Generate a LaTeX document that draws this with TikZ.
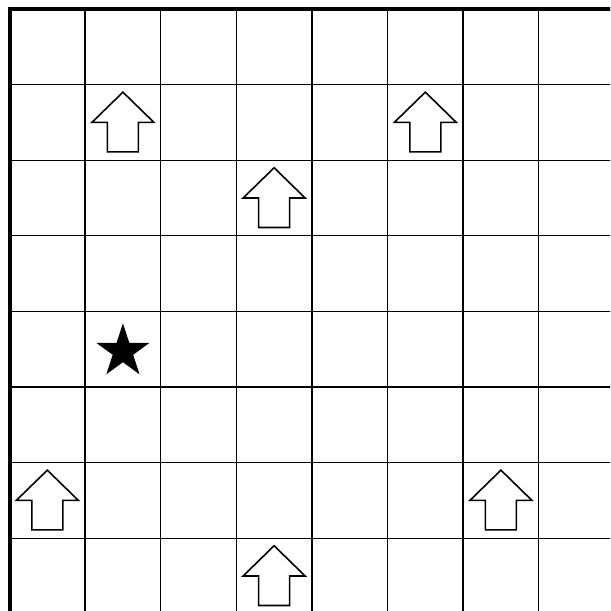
\documentclass[tikz,border=0pt]{standalone}
\usepackage{tikz}
\usetikzlibrary{shapes.geometric}

\begin{document}
\begin{tikzpicture}[
    gridline/.style={black, line width=0.5pt},
    border/.style={black, line width=1.5pt},
    uparrow/.pic={
      \draw[black, line width=0.6pt, fill=white]
        (0,0.4) -- (0.41,0) -- (0.205,0) -- (0.205,-0.39) -- (-0.205,-0.39)
        -- (-0.205,0) -- (-0.41,0) -- cycle;
    },
    goal/.style={star, star points=5, star point ratio=2.618, fill=black,
                 minimum size=0.746cm, inner sep=0pt}
  ]
    \useasboundingbox (-0.126,0.037) rectangle (7.943,8.119);
    \clip (-0.126,0.037) rectangle (7.943,8.119);
    % grid
    \foreach \i in {1,...,8} {
      \draw[gridline] (\i,-0.5) -- (\i,8);
      \draw[gridline] (0,8-\i) -- (8.5,8-\i);
    }
    \draw[border] (0,-0.5) -- (0,8) -- (8.5,8);
    % arrows (column, row from top)
    \foreach \c/\r in {1/1, 5/1, 3/2, 0/6, 6/6, 3/7}
      \pic at (\c+0.5, 7.5-\r) {uparrow};
    % goal
    \node[goal] (target) at (1.5, 3.47) {};
  \end{tikzpicture}
\end{document}
